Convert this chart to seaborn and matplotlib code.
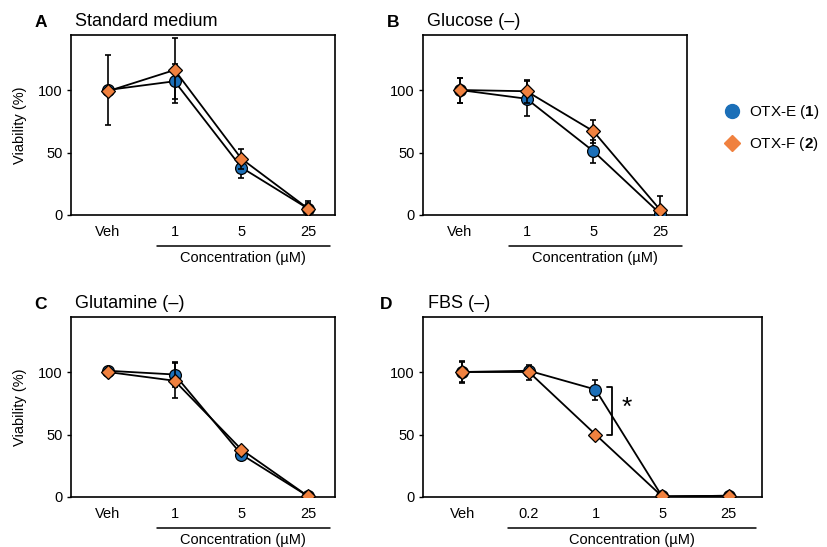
import matplotlib
matplotlib.use("Agg")
import matplotlib.pyplot as plt
import matplotlib.transforms as mtransforms
from matplotlib.lines import Line2D
import seaborn as sns

sns.set_style("ticks")
plt.rcParams['font.family'] = ['Liberation Sans', 'DejaVu Sans']
plt.rcParams['mathtext.fontset'] = 'custom'
plt.rcParams['mathtext.bf'] = 'Liberation Sans:bold'
plt.rcParams['mathtext.rm'] = 'Liberation Sans'
for k in ['text.color', 'axes.labelcolor', 'xtick.color', 'ytick.color']:
    plt.rcParams[k] = 'black'

# --- data (viability %, mean and error) ---
labels_std = ["Veh", "1", "5", "25"]
labels_fbs = ["Veh", "0.2", "1", "5", "25"]

a_e = [100, 107, 38, 5]
a_e_err = [28, 14, 8, 5]
a_f = [99, 116, 45, 5]
a_f_err = [3, 26, 8, 6]

b_e = [100, 93, 51, 1]
b_e_err = [10, 14, 9, 2]
b_f = [100, 99, 67, 4]
b_f_err = [10, 9, 9, 11]

c_e = [101, 98, 34, 0.5]
c_e_err = [2, 10, 2, 1]
c_f = [100, 93, 38, 0.5]
c_f_err = [2, 14, 2, 1]

d_e = [100, 101, 86, 0.5, 1]
d_e_err = [8, 3, 8, 1, 1]
d_f = [100, 100, 50, 0.5, 1]
d_f_err = [9, 6, 2, 1, 1]

blue = "#1b6fb8"
orange = "#f0813f"

panels = [
    ("A", "Standard medium", labels_std, a_e, a_e_err, a_f, a_f_err,
     [71, 35, 335, 215], True),
    ("B", "Glucose (\u2013)", labels_std, b_e, b_e_err, b_f, b_f_err,
     [423, 35, 687, 215], False),
    ("C", "Glutamine (\u2013)", labels_std, c_e, c_e_err, c_f, c_f_err,
     [71, 317, 335, 497], True),
    ("D", "FBS (\u2013)", labels_fbs, d_e, d_e_err, d_f, d_f_err,
     [423, 317, 762, 497], False),
]

W, H = 827, 547
fig = plt.figure(figsize=(8.27, 5.47), dpi=100)

for letter, title, labels, e, e_err, f, f_err, box, ylab in panels:
    x0, y0, x1, y1 = box
    ax = fig.add_axes([x0 / W, 1 - y1 / H, (x1 - x0) / W, (y1 - y0) / H])
    pos = list(range(len(labels)))

    for vals, errs, col, mk, z in [(e, e_err, blue, "o", 3), (f, f_err, orange, "D", 4)]:
        ax.errorbar(pos, vals, yerr=errs, fmt="none", ecolor="black",
                    elinewidth=1.2, capsize=2.5, capthick=1.2, zorder=z - 1)
        sns.lineplot(x=pos, y=vals, ax=ax, color="black", linewidth=1.3,
                     marker=mk, markersize=8.5 if mk == "o" else 7.5,
                     markerfacecolor=col, markeredgecolor="black",
                     markeredgewidth=0.9, zorder=z)

    n = len(labels)
    if n == 4:
        ax.set_xlim(-0.55, 3.4)
    else:
        ax.set_xlim(-0.59, 4.5)
    ax.set_ylim(0, 144)
    ax.set_yticks([0, 50, 100])
    ax.set_xticks(pos)
    ax.set_xticklabels(labels)
    ax.tick_params(axis="x", length=0, labelsize=10.5, pad=7)
    ax.tick_params(axis="y", length=3, width=1, labelsize=10.5, pad=3)
    for sp in ax.spines.values():
        sp.set_linewidth(1.2)
        sp.set_color("black")
    if ylab:
        ax.set_ylabel("Viability (%)", fontsize=10.5, labelpad=8)
    else:
        ax.set_ylabel("")

    ax.text(-0.09, 1.03, letter, transform=ax.transAxes, fontsize=12.5,
            fontweight="bold", ha="right", va="bottom")
    ax.text(0.015, 1.03, title, transform=ax.transAxes, fontsize=13,
            ha="left", va="bottom")

    # concentration underline
    trans = mtransforms.blended_transform_factory(ax.transData, ax.transAxes)
    if n == 4:
        lx = (0.73, 3.33)
    else:
        lx = (0.69, 4.41)
    ax.plot(lx, [-0.172, -0.172], transform=trans, color="black",
            linewidth=1.1, clip_on=False)
    ax.text(sum(lx) / 2, -0.2, "Concentration (\u00b5M)", transform=trans,
            fontsize=10.5, ha="center", va="top")

    if letter == "D":
        bx = 2.25
        ax.plot([bx - 0.07, bx, bx, bx - 0.07], [88, 88, 50, 50],
                color="black", linewidth=1.3)
        ax.text(2.47, 71, "*", fontsize=19, ha="center", va="center")

handles = [
    Line2D([], [], marker="o", linestyle="none", markersize=10,
           markerfacecolor=blue, markeredgecolor=blue),
    Line2D([], [], marker="D", linestyle="none", markersize=8,
           markerfacecolor=orange, markeredgecolor=orange),
]
fig.legend(handles, [r"OTX-E ($\mathbf{1}$)", r"OTX-F ($\mathbf{2}$)"],
           loc="center left", bbox_to_anchor=(711 / W, 1 - 128 / H),
           frameon=False, fontsize=11, handletextpad=0.1, labelspacing=0.9,
           borderaxespad=0)

fig.savefig("out.png", dpi=100)
